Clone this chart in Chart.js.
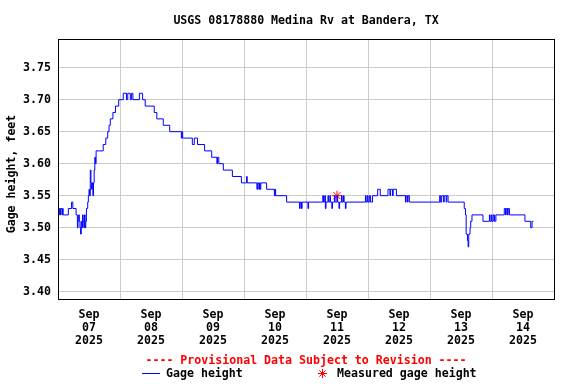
<!DOCTYPE html>
<html>
<head>
<meta charset="utf-8">
<script src="https://cdn.jsdelivr.net/npm/chart.js@4/dist/chart.umd.min.js"></script>
<style>
  html, body { margin: 0; padding: 0; background: #fff; }
  #wrap { width: 576px; height: 384px; position: relative; }
</style>
</head>
<body>
<div id="wrap"><canvas id="c"></canvas></div>
<script>
// ---- data (hours since Sep 07 2025 00:00) ----
const chartTitle = 'USGS 08178880 Medina Rv at Bandera, TX';
const yAxisTitle = 'Gage height, feet';
const provisionalText = '---- Provisional Data Subject to Revision ----';
const seriesNames = ['Gage height', 'Measured gage height'];

const gageHours = [
  0, 0.5, 0.75, 1.0, 1.5, 1.75, 2.0, 4.0, 5.25, 5.75, 7.0, 7.5, 7.75, 8.0, 8.25, 8.5, 8.75, 9.0, 9.25, 9.5,
  9.75, 10.0, 10.25, 10.5, 10.75, 11.0, 11.5, 11.75, 12.0, 12.25, 12.5, 12.75, 13.0, 13.25, 13.5, 13.75, 14.0, 14.25, 14.5, 14.75,
  17.5, 18.5, 19.25, 19.75, 20.25, 21.25, 22.25, 23.5, 25.25, 26.5, 27.0, 28.0, 28.5, 29.0, 31.5, 32.75, 33.75, 37.25, 38.25, 40.75,
  43.25, 47.75, 48.0, 48.25, 52.0, 52.75, 54.0, 56.75, 59.5, 61.5, 61.75, 62.25, 64.0, 67.5, 71.0, 73.0, 73.25, 77.0, 77.25, 77.75,
  78.0, 78.25, 78.5, 80.75, 83.75, 84.0, 84.25, 88.5, 93.5, 93.75, 94.25, 94.5, 96.75, 97.0, 102.5, 102.75, 103.25, 103.5, 103.75, 104.5,
  104.75, 105.25, 105.5, 106.0, 106.25, 107.0, 107.25, 108.0, 108.25, 108.75, 109.0, 109.75, 110.0, 110.5, 110.75, 111.25, 111.5, 119.0, 119.25, 119.75,
  120.0, 120.5, 121.0, 121.75, 123.75, 124.75, 127.75, 128.5, 128.75, 129.5, 129.75, 131.0, 134.5, 134.75, 135.25, 135.5, 136.0, 147.75, 148.0, 148.5,
  149.25, 149.5, 150.25, 150.5, 151.0, 157.25, 157.75, 158.0, 158.5, 158.75, 159.0, 159.5, 159.75, 160.25, 164.5, 167.0, 167.25, 167.75, 168.0, 168.5,
  169.0, 169.5, 172.75, 173.25, 173.5, 174.0, 174.25, 174.75, 180.75, 183.0, 183.5, 184.0
];
const gageHeights = [
  3.52, 3.53, 3.52, 3.53, 3.52, 3.53, 3.52, 3.53, 3.54, 3.53, 3.52, 3.50, 3.51, 3.52, 3.51, 3.50, 3.49, 3.51, 3.50, 3.52,
  3.51, 3.50, 3.52, 3.50, 3.51, 3.53, 3.54, 3.55, 3.56, 3.55, 3.59, 3.57, 3.56, 3.57, 3.55, 3.57, 3.59, 3.61, 3.60, 3.62,
  3.63, 3.64, 3.65, 3.66, 3.67, 3.68, 3.69, 3.70, 3.71, 3.70, 3.71, 3.70, 3.71, 3.70, 3.71, 3.70, 3.69, 3.68, 3.67, 3.66,
  3.65, 3.64, 3.65, 3.64, 3.63, 3.64, 3.63, 3.62, 3.61, 3.60, 3.61, 3.60, 3.59, 3.58, 3.57, 3.58, 3.57, 3.56, 3.57, 3.56,
  3.57, 3.56, 3.57, 3.56, 3.55, 3.56, 3.55, 3.54, 3.53, 3.54, 3.53, 3.54, 3.53, 3.54, 3.55, 3.54, 3.55, 3.53, 3.54, 3.55,
  3.54, 3.55, 3.54, 3.53, 3.54, 3.55, 3.54, 3.55, 3.54, 3.53, 3.54, 3.55, 3.54, 3.55, 3.54, 3.53, 3.54, 3.55, 3.54, 3.55,
  3.54, 3.55, 3.54, 3.55, 3.56, 3.55, 3.56, 3.55, 3.56, 3.55, 3.56, 3.55, 3.54, 3.55, 3.54, 3.55, 3.54, 3.55, 3.54, 3.55,
  3.54, 3.55, 3.54, 3.55, 3.54, 3.53, 3.52, 3.49, 3.48, 3.47, 3.49, 3.50, 3.51, 3.52, 3.51, 3.52, 3.51, 3.52, 3.51, 3.52,
  3.51, 3.52, 3.53, 3.52, 3.53, 3.52, 3.53, 3.52, 3.51, 3.50, 3.51, 3.51
];
const measuredHours = [108];
const measuredHeights = [3.55];

const yTicks = [3.40, 3.45, 3.50, 3.55, 3.60, 3.65, 3.70, 3.75];
const dayMonths = ['Sep', 'Sep', 'Sep', 'Sep', 'Sep', 'Sep', 'Sep', 'Sep'];
const dayNumbers = ['07', '08', '09', '10', '11', '12', '13', '14'];
const dayYears = ['2025', '2025', '2025', '2025', '2025', '2025', '2025', '2025'];

// ---- chart ----
const FONT = '"DejaVu Sans Mono", "Liberation Mono", monospace';
const FONT_CSS = 'bold 11.6px ' + FONT;

const xTickValues = [];
for (let i = 0; i <= dayNumbers.length * 2; i++) xTickValues.push(i * 12);

const frame = {
  id: 'frame',
  afterDraw(chart) {
    const { ctx, chartArea: a } = chart;
    const midX = (a.left + a.right) / 2;
    ctx.save();
    // plot frame
    ctx.strokeStyle = '#000';
    ctx.lineWidth = 1;
    ctx.strokeRect(a.left + 0.5, a.top + 0.5, a.right - a.left, a.bottom - a.top);
    ctx.font = FONT_CSS;
    ctx.textBaseline = 'middle';
    // title
    ctx.textAlign = 'center';
    ctx.fillStyle = '#000';
    ctx.fillText(chartTitle, midX, 20.5);
    // y-axis title
    ctx.save();
    ctx.translate(11.5, 174);
    ctx.rotate(-Math.PI / 2);
    ctx.fillText(yAxisTitle, 0, 0);
    ctx.restore();
    // provisional note
    ctx.fillStyle = '#ff0000';
    ctx.fillText(provisionalText, midX, 360.5);
    // legend
    ctx.textAlign = 'left';
    ctx.strokeStyle = '#0000ff';
    ctx.beginPath(); ctx.moveTo(142, 373.5); ctx.lineTo(160, 373.5); ctx.stroke();
    ctx.fillStyle = '#000';
    ctx.fillText(seriesNames[0], 166, 374);
    ctx.strokeStyle = '#ff0000';
    const cx = 322.5, cy = 373.5, r = 4.5;
    ctx.beginPath();
    for (let k = 0; k < 4; k++) {
      const ang = k * Math.PI / 4;
      ctx.moveTo(cx + Math.cos(ang) * r, cy + Math.sin(ang) * r);
      ctx.lineTo(cx - Math.cos(ang) * r, cy - Math.sin(ang) * r);
    }
    ctx.stroke();
    ctx.fillStyle = '#000';
    ctx.fillText(seriesNames[1], 337, 374);
    ctx.restore();
  }
};

new Chart(document.getElementById('c'), {
  type: 'line',
  data: {
    datasets: [
      {
        label: seriesNames[0],
        data: gageHours.map((h, i) => ({ x: h, y: gageHeights[i] })),
        borderColor: '#0000ff',
        borderWidth: 1,
        pointRadius: 0,
        stepped: true,
        fill: false
      },
      {
        label: seriesNames[1],
        data: measuredHours.map((h, i) => ({ x: h, y: measuredHeights[i] })),
        showLine: false,
        pointStyle: 'star',
        pointRadius: 5,
        borderColor: '#ff0000',
        backgroundColor: '#ff0000',
        pointBorderWidth: 1
      }
    ]
  },
  options: {
    responsive: true,
    maintainAspectRatio: false,
    animation: false,
    events: [],
    layout: { padding: { left: 0, right: 22, top: 39, bottom: 0 } },
    plugins: {
      legend: { display: false },
      tooltip: { enabled: false },
      title: { display: false }
    },
    scales: {
      x: {
        type: 'linear',
        min: 0,
        max: 192,
        afterBuildTicks(scale) { scale.ticks = xTickValues.map(v => ({ value: v })); },
        afterFit(scale) { scale.height = 85; },
        grid: {
          color: ctx => (ctx.tick && ctx.tick.value % 24 === 0) ? '#cccccc' : 'rgba(0,0,0,0)',
          lineWidth: 1,
          drawTicks: false
        },
        border: { display: false },
        ticks: {
          autoSkip: false,
          maxRotation: 0,
          minRotation: 0,
          padding: 10,
          color: '#000',
          font: { family: FONT, size: 11.6, weight: 'bold', lineHeight: '12.7px' },
          callback: (v) => {
            if (v % 24 !== 12) return '';
            const i = (v - 12) / 24;
            return [dayMonths[i], dayNumbers[i], dayYears[i]];
          }
        }
      },
      y: {
        type: 'linear',
        min: 3.3886,
        max: 3.7948,
        afterBuildTicks(scale) { scale.ticks = yTicks.map(v => ({ value: v })); },
        afterFit(scale) { scale.width = 58; },
        grid: { color: '#cccccc', lineWidth: 1, drawTicks: false },
        border: { display: false },
        ticks: {
          padding: 7,
          color: '#000',
          font: { family: FONT, size: 11.6, weight: 'bold' },
          callback: v => v.toFixed(2)
        }
      }
    }
  },
  plugins: [frame]
});
</script>
</body>
</html>
